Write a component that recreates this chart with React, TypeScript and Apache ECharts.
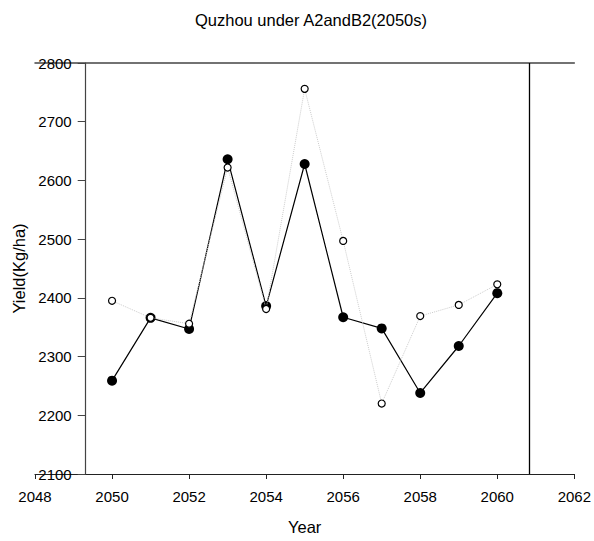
import React, { useEffect, useRef } from "react";
import * as echarts from "echarts";

const years = [2050, 2051, 2052, 2053, 2054, 2055, 2056, 2057, 2058, 2059, 2060];
const filledSeries = [2259, 2366, 2347, 2636, 2386, 2628, 2367, 2348, 2238, 2318, 2408];
const openSeries = [2395, 2366, 2356, 2622, 2381, 2756, 2497, 2220, 2369, 2388, 2423];
const xTicks = { min: 2048, max: 2062, interval: 2 };
const yTicks = { min: 2100, max: 2800, interval: 100 };
const verticalLineYear = 2060.82;

const FONT = "'Liberation Sans', Arial, sans-serif";

export default function App() {
  const ref = useRef<HTMLDivElement>(null);
  useEffect(() => {
    if (!ref.current) return;
    const chart = echarts.init(ref.current, undefined, { renderer: "svg" });
    const gridLeft = 35;
    const gridRight = 575;
    chart.setOption({
      animation: false,
      backgroundColor: "#fff",
      title: {
        text: "Quzhou under A2andB2(2050s)",
        left: 306,
        top: 6,
        textAlign: "center",
        textStyle: { fontFamily: FONT, fontSize: 16.5, fontWeight: "normal", color: "#000" },
      },
      grid: { left: gridLeft, right: 594 - gridRight, top: 63, bottom: 541 - 474 },
      xAxis: [
        {
          type: "value",
          min: xTicks.min,
          max: xTicks.max,
          interval: xTicks.interval,
          position: "bottom",
          name: "Year",
          nameLocation: "middle",
          nameGap: 44,
          nameTextStyle: { fontFamily: FONT, fontSize: 16.5, color: "#000" },
          axisLine: { show: true, onZero: false, lineStyle: { color: "#222", width: 1.2 } },
          axisTick: { show: true, inside: false, length: 5, lineStyle: { color: "#222" } },
          axisLabel: {
            fontFamily: FONT,
            fontSize: 15,
            color: "#000",
            margin: 15,
            showMinLabel: true,
            showMaxLabel: true,
            formatter: (v: number) => String(v),
          },
          splitLine: { show: false },
        },
        {
          type: "value",
          min: xTicks.min,
          max: xTicks.max,
          position: "top",
          axisLine: { show: true, onZero: false, lineStyle: { color: "#444", width: 1.5 } },
          axisTick: { show: false },
          axisLabel: { show: false },
          splitLine: { show: false },
        },
      ],
      yAxis: {
        type: "value",
        min: yTicks.min,
        max: yTicks.max,
        interval: yTicks.interval,
        offset: -(85.7 - gridLeft),
        name: "Yield(Kg/ha)",
        nameLocation: "middle",
        nameGap: 56,
        nameTextStyle: { fontFamily: FONT, fontSize: 16.5, color: "#000" },
        axisLine: { show: true, onZero: false, lineStyle: { color: "#444", width: 1.2 } },
        axisTick: { show: true, inside: false, length: 8, lineStyle: { color: "#444" } },
        axisLabel: {
          fontFamily: FONT,
          fontSize: 15,
          color: "#000",
          margin: 14,
          formatter: (v: number) => String(v),
        },
        splitLine: { show: false },
      },
      series: [
        {
          type: "line",
          data: years.map((y, i) => [y, filledSeries[i]]),
          symbol: "circle",
          symbolSize: 10,
          itemStyle: { color: "#000" },
          lineStyle: { color: "#000", width: 1.2 },
          z: 2,
          markLine: {
            silent: true,
            symbol: ["none", "none"],
            label: { show: false },
            lineStyle: { color: "#000", width: 1.3, type: "solid" },
            data: [{ xAxis: verticalLineYear }],
          },
        },
        {
          type: "line",
          data: years.map((y, i) => [y, openSeries[i]]),
          symbol: "circle",
          symbolSize: 7,
          itemStyle: { color: "#fff", borderColor: "#000", borderWidth: 1.2 },
          lineStyle: { color: "#ccc", width: 1, type: "dotted" },
          z: 3,
        },
      ],
    });
    return () => chart.dispose();
  }, []);
  return (
    <div
      ref={ref}
      style={{ position: "absolute", left: 0, top: 0, width: 594, height: 541 }}
    />
  );
}
